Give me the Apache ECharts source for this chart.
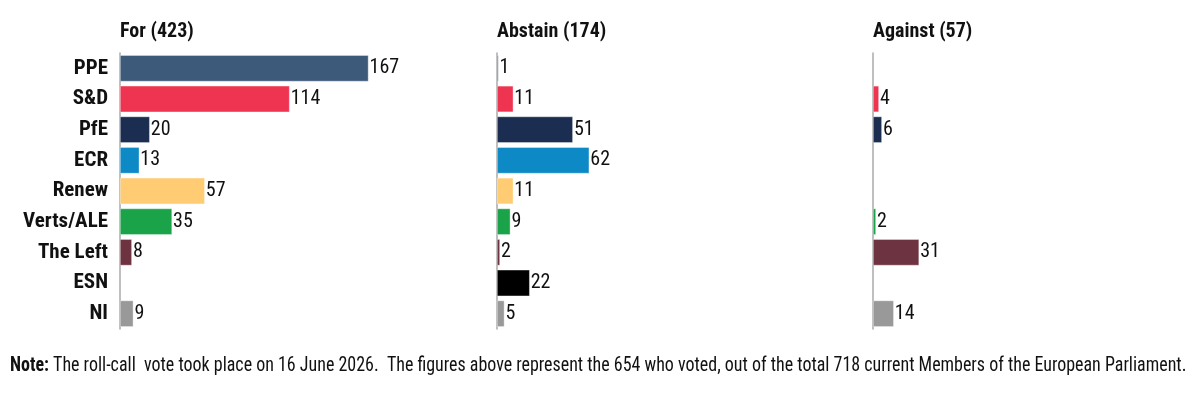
<!DOCTYPE html>
<html>
<head>
<meta charset="utf-8">
<script src="https://cdn.jsdelivr.net/npm/echarts@6/dist/echarts.min.js"></script>
<style>html,body{margin:0;padding:0;background:#fff}#c{width:1200px;height:399px}</style>
</head>
<body>
<div id="c"></div>
<script>
const categories = ['PPE', 'S&D', 'PfE', 'ECR', 'Renew', 'Verts/ALE', 'The Left', 'ESN', 'NI'];
const colors = ['#3d5a7a', '#ee3450', '#1b2e52', '#0d89c6', '#ffcc73', '#1ba34a', '#6e3340', '#000000', '#999999'];
const forVotes = [167, 114, 20, 13, 57, 35, 8, 0, 9];
const abstainVotes = [1, 11, 51, 62, 11, 9, 2, 22, 5];
const againstVotes = [0, 4, 6, 0, 0, 2, 31, 0, 14];
const panelTitles = ['For (423)', 'Abstain (174)', 'Against (57)'];
const noteBold = 'Note:';
const noteText = ' The roll-call  vote took place on 16 June 2026.  The figures above represent the 654 who voted, out of the total 718 current Members of the European Parliament.';

const FONT = '"Roboto Condensed", "Open Sans Condensed", sans-serif';
const panels = [forVotes, abstainVotes, againstVotes];
const lefts = [120, 497, 873];
const chart = echarts.init(document.getElementById('c'));

const grids = lefts.map(l => ({ left: l, top: 53, width: 250, height: 276 }));
const xAxes = lefts.map((l, i) => ({ type: 'value', gridIndex: i, min: 0, max: 168, show: false }));
const yAxes = lefts.map((l, i) => ({
  type: 'category', gridIndex: i, data: categories, inverse: true,
  axisLine: { show: true, lineStyle: { color: '#aaaaaa', width: 1.5 } },
  axisTick: { show: false },
  axisLabel: { show: i === 0, fontFamily: FONT, fontWeight: 'bold', fontSize: 21, color: '#111', margin: 12 }
}));
const series = panels.map((vals, i) => ({
  type: 'bar', xAxisIndex: i, yAxisIndex: i, barWidth: '86%',
  data: vals.map((v, j) => v === 0 ? null : { value: v, itemStyle: { color: colors[j] } }),
  itemStyle: { borderColor: 'rgba(255,255,255,0.6)', borderWidth: 0.6 },
  label: { show: true, position: 'right', distance: 1, fontFamily: FONT, fontSize: 20, color: '#111' },
  silent: true, animation: false
}));
const graphics = lefts.map((l, i) => ({
  type: 'text', left: l, top: 22,
  style: { text: panelTitles[i], font: 'bold 20px ' + FONT, fill: '#111' }
}));
graphics.push({
  type: 'text', x: 10, y: 355, scaleX: 0.855, originX: 0,
  style: {
    text: '{b|' + noteBold + '}{n|' + noteText + '}',
    rich: {
      b: { fontFamily: FONT, fontWeight: 'bold', fontSize: 21, fill: '#111' },
      n: { fontFamily: FONT, fontSize: 21, fill: '#111' }
    }
  }
});
chart.setOption({ animation: false, grid: grids, xAxis: xAxes, yAxis: yAxes, series: series, graphic: graphics });
</script>
</body>
</html>
